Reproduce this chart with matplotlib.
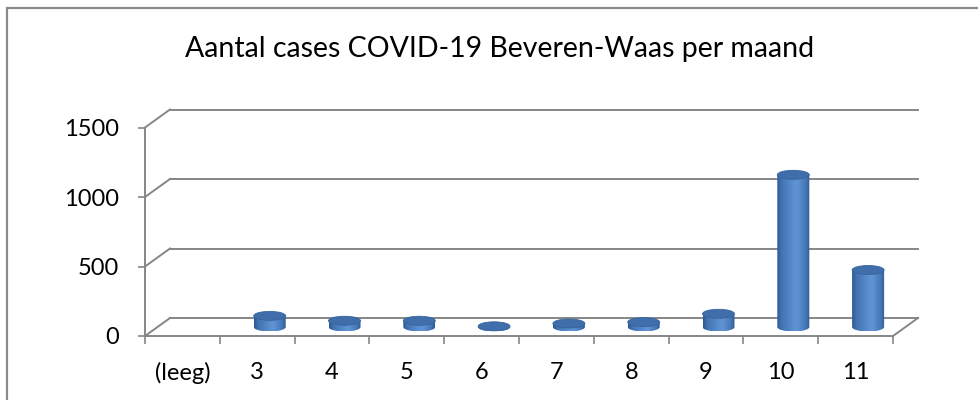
import numpy as np
import matplotlib
matplotlib.use("Agg")
import matplotlib.pyplot as plt
from matplotlib.path import Path
from matplotlib.patches import PathPatch, Ellipse, Rectangle
from matplotlib.colors import LinearSegmentedColormap

# ---- data ----
categories = ["(leeg)", "3", "4", "5", "6", "7", "8", "9", "10", "11"]
cases = [0, 80, 45, 45, 5, 25, 35, 95, 1095, 410]
yticks = [0, 500, 1000, 1500]
title = "Aantal cases COVID-19 Beveren-Waas per maand"

# ---- style ----
plt.rcParams['font.family'] = ['Lato', 'DejaVu Sans']
grid_col = "#868686"
W, H = 979, 400
fig = plt.figure(figsize=(W / 100, H / 100), dpi=100)
ax = fig.add_axes([145 / W, 64 / H, (893 - 145) / W, (336 - 127.5) / H])
ymax = 1500
ax.set_xlim(0, len(categories))
ax.set_ylim(0, ymax)

# pixel -> data conversions for pseudo-3D depth
px_cat = (893 - 145) / len(categories)
px_val = (336 - 127.5) / ymax
ddx = 25 / px_cat          # depth offset in x (data)
ddy = 18 / px_val          # depth offset in y (data)
cw = 16 / px_cat           # cylinder half-width
eh = 4.5 / px_val          # ellipse half-height

# gridlines / walls
n = len(categories)
for v in yticks:
    ax.plot([0, ddx], [v, v + ddy], color=grid_col, lw=1.4, clip_on=False, zorder=1)
    ax.plot([ddx, n + ddx], [v + ddy, v + ddy], color=grid_col, lw=1.4, clip_on=False, zorder=1)
ax.plot([n, n + ddx], [0, ddy], color=grid_col, lw=1.4, clip_on=False, zorder=1)

# axes styling
for s in ["top", "right"]:
    ax.spines[s].set_visible(False)
for s in ["left", "bottom"]:
    ax.spines[s].set_color(grid_col)
    ax.spines[s].set_linewidth(1.4)
    ax.spines[s].set_zorder(2)
ax.set_yticks(yticks)
ax.set_yticklabels([str(v) for v in yticks])
ax.tick_params(axis='y', length=5, width=1.2, color=grid_col, pad=13.5, labelsize=17)
ax.set_xticks(np.arange(n) + 0.5)
ax.set_xticklabels(categories)
ax.set_xticks(np.arange(n + 1), minor=True)
ax.tick_params(axis='x', which='major', length=0, pad=18.5, labelsize=17)
ax.tick_params(axis='x', which='minor', length=5.5, width=1.2, color=grid_col)
ax.patch.set_visible(False)

cmap = LinearSegmentedColormap.from_list("cyl", [
    (0.0, "#2b5a92"), (0.12, "#4272b0"), (0.5, "#5b8fd0"),
    (0.62, "#5f93d3"), (0.88, "#4677b7"), (1.0, "#2d5c95")])
grad = np.linspace(0, 1, 64).reshape(1, -1)

t = np.linspace(np.pi, 2 * np.pi, 60)
for i, v in enumerate(cases):
    if v <= 0:
        continue
    cx = i + 0.5 + ddx / 2
    yb = ddy / 2
    yt = yb + v
    xs = [cx - cw, cx - cw, cx + cw, cx + cw]
    ys = [yb, yt, yt, yb]
    arc_x = cx + cw * np.cos(t[::-1])
    arc_y = yb + eh * np.sin(t[::-1])
    verts = list(zip(xs, ys)) + list(zip(arc_x[1:], arc_y[1:]))
    verts.append(verts[0])
    codes = [Path.MOVETO] + [Path.LINETO] * (len(verts) - 2) + [Path.CLOSEPOLY]
    body = PathPatch(Path(verts, codes), facecolor="none", edgecolor="none", zorder=3)
    ax.add_patch(body)
    im = ax.imshow(grad, cmap=cmap, extent=[cx - cw, cx + cw, yb - eh, yt], aspect='auto',
                   zorder=3, interpolation='bilinear')
    im.set_clip_path(body)
    top = Ellipse((cx, yt), 2 * cw, 2 * eh, facecolor="#3f6eaa", edgecolor="#36649e",
                  lw=0.6, zorder=4)
    ax.add_patch(top)

ax.set_xlim(0, n)
ax.set_ylim(0, ymax)

# chart border
fig.add_artist(Rectangle((7 / W, -0.2), 1.5, 1.2 - 8 / H, transform=fig.transFigure,
                         fill=False, edgecolor="#8a8a8a", lw=1.6))
fig.text(500 / W, 1 - 57 / H, title, ha='center', va='baseline', fontsize=20.5)

fig.savefig("out.png", dpi=100)
